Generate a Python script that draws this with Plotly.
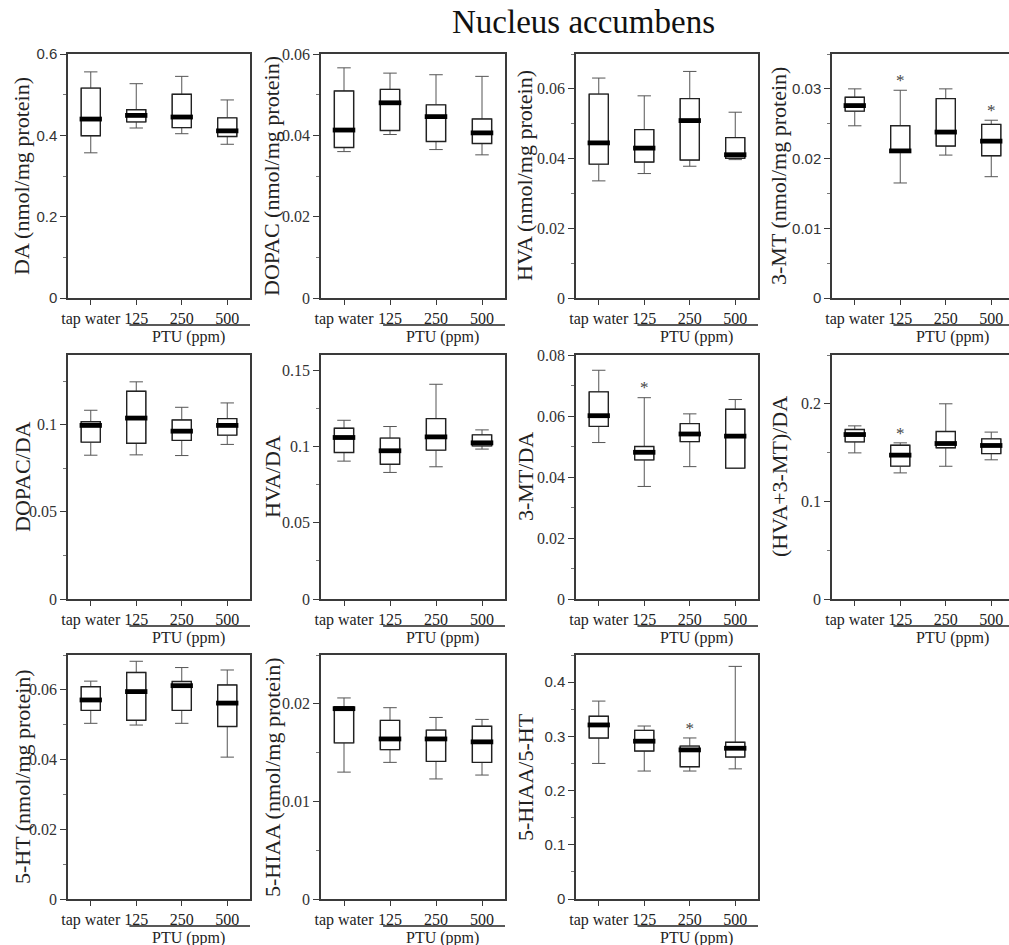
import plotly.graph_objects as go

CATEGORIES = ["tap water", "125", "250", "500"]
X_POS = [0, 1, 2, 3]

# ---- data (lower whisker, Q1, median, Q3, upper whisker) ----
DA_LOW = [0.357, 0.418, 0.404, 0.378]
DA_Q1 = [0.399, 0.433, 0.419, 0.397]
DA_MED = [0.440, 0.449, 0.445, 0.411]
DA_Q3 = [0.516, 0.463, 0.501, 0.443]
DA_HIGH = [0.556, 0.527, 0.545, 0.487]

DOPAC_LOW = [0.0360, 0.0402, 0.0365, 0.0352]
DOPAC_Q1 = [0.0370, 0.0412, 0.0385, 0.0380]
DOPAC_MED = [0.0413, 0.0480, 0.0446, 0.0406]
DOPAC_Q3 = [0.0509, 0.0513, 0.0475, 0.0440]
DOPAC_HIGH = [0.0566, 0.0553, 0.0549, 0.0545]

HVA_LOW = [0.0336, 0.0357, 0.0378, 0.0397]
HVA_Q1 = [0.0384, 0.0390, 0.0396, 0.0401]
HVA_MED = [0.0445, 0.0430, 0.0509, 0.0411]
HVA_Q3 = [0.0585, 0.0483, 0.0572, 0.0460]
HVA_HIGH = [0.0631, 0.0580, 0.0650, 0.0533]

MT_LOW = [0.0247, 0.0165, 0.0205, 0.0174]
MT_Q1 = [0.0268, 0.0210, 0.0218, 0.0204]
MT_MED = [0.0276, 0.0211, 0.0238, 0.0225]
MT_Q3 = [0.0288, 0.0247, 0.0286, 0.0249]
MT_HIGH = [0.0300, 0.0298, 0.0300, 0.0255]
MT_STARS = [1, 3]

DOPACDA_LOW = [0.0825, 0.0827, 0.0823, 0.0887]
DOPACDA_Q1 = [0.0900, 0.0894, 0.0910, 0.0940]
DOPACDA_MED = [0.0996, 0.1038, 0.0963, 0.0996]
DOPACDA_Q3 = [0.1017, 0.1192, 0.1027, 0.1035]
DOPACDA_HIGH = [0.1083, 0.1246, 0.1100, 0.1125]

HVADA_LOW = [0.0904, 0.0830, 0.0867, 0.0983]
HVADA_Q1 = [0.0961, 0.0884, 0.0976, 0.1004]
HVADA_MED = [0.1059, 0.0972, 0.1063, 0.1024]
HVADA_Q3 = [0.1120, 0.1055, 0.1183, 0.1076]
HVADA_HIGH = [0.1172, 0.1131, 0.1408, 0.1109]

MTDA_LOW = [0.0513, 0.0369, 0.0434, 0.0429]
MTDA_Q1 = [0.0566, 0.0456, 0.0516, 0.0429]
MTDA_MED = [0.0601, 0.0481, 0.0541, 0.0534]
MTDA_Q3 = [0.0679, 0.0500, 0.0575, 0.0622]
MTDA_HIGH = [0.0750, 0.0660, 0.0607, 0.0654]
MTDA_STARS = [1]

TURN_LOW = [0.1497, 0.1292, 0.1360, 0.1426]
TURN_Q1 = [0.1610, 0.1361, 0.1549, 0.1490]
TURN_MED = [0.1685, 0.1474, 0.1593, 0.1573]
TURN_Q3 = [0.1737, 0.1576, 0.1716, 0.1641]
TURN_HIGH = [0.1774, 0.1600, 0.2000, 0.1710]
TURN_STARS = [1]

HT_LOW = [0.0504, 0.0499, 0.0504, 0.0407]
HT_Q1 = [0.0541, 0.0513, 0.0541, 0.0495]
HT_MED = [0.0571, 0.0595, 0.0612, 0.0562]
HT_Q3 = [0.0609, 0.0650, 0.0624, 0.0614]
HT_HIGH = [0.0625, 0.0682, 0.0664, 0.0657]

HIAA_LOW = [0.0130, 0.0140, 0.0123, 0.0127]
HIAA_Q1 = [0.0160, 0.0153, 0.0141, 0.0140]
HIAA_MED = [0.0195, 0.0164, 0.0164, 0.0161]
HIAA_Q3 = [0.0197, 0.0183, 0.0173, 0.0177]
HIAA_HIGH = [0.0206, 0.0196, 0.0186, 0.0184]

RATIO_LOW = [0.250, 0.236, 0.236, 0.240]
RATIO_Q1 = [0.297, 0.273, 0.244, 0.262]
RATIO_MED = [0.321, 0.291, 0.275, 0.278]
RATIO_Q3 = [0.337, 0.311, 0.282, 0.289]
RATIO_HIGH = [0.365, 0.319, 0.297, 0.429]
RATIO_STARS = [2]

panels = [
    dict(t="DA (nmol/mg protein)", lo=DA_LOW, q1=DA_Q1, md=DA_MED, q3=DA_Q3, hi=DA_HIGH, st=[], ymax=0.6, dt=0.2, mn=0.1, sans=True),
    dict(t="DOPAC (nmol/mg protein)", lo=DOPAC_LOW, q1=DOPAC_Q1, md=DOPAC_MED, q3=DOPAC_Q3, hi=DOPAC_HIGH, st=[], ymax=0.06, dt=0.02, mn=0.01, sans=False),
    dict(t="HVA (nmol/mg protein)", lo=HVA_LOW, q1=HVA_Q1, md=HVA_MED, q3=HVA_Q3, hi=HVA_HIGH, st=[], ymax=0.07, dt=0.02, mn=0.01, sans=False),
    dict(t="3-MT (nmol/mg protein)", lo=MT_LOW, q1=MT_Q1, md=MT_MED, q3=MT_Q3, hi=MT_HIGH, st=MT_STARS, ymax=0.035, dt=0.01, mn=0.005, sans=True),
    dict(t="DOPAC/DA", lo=DOPACDA_LOW, q1=DOPACDA_Q1, md=DOPACDA_MED, q3=DOPACDA_Q3, hi=DOPACDA_HIGH, st=[], ymax=0.14, dt=0.05, mn=0.025, sans=False),
    dict(t="HVA/DA", lo=HVADA_LOW, q1=HVADA_Q1, md=HVADA_MED, q3=HVADA_Q3, hi=HVADA_HIGH, st=[], ymax=0.16, dt=0.05, mn=0.025, sans=False),
    dict(t="3-MT/DA", lo=MTDA_LOW, q1=MTDA_Q1, md=MTDA_MED, q3=MTDA_Q3, hi=MTDA_HIGH, st=MTDA_STARS, ymax=0.08, dt=0.02, mn=0.01, sans=False),
    dict(t="(HVA+3-MT)/DA", lo=TURN_LOW, q1=TURN_Q1, md=TURN_MED, q3=TURN_Q3, hi=TURN_HIGH, st=TURN_STARS, ymax=0.25, dt=0.1, mn=0.05, sans=False),
    dict(t="5-HT (nmol/mg protein)", lo=HT_LOW, q1=HT_Q1, md=HT_MED, q3=HT_Q3, hi=HT_HIGH, st=[], ymax=0.07, dt=0.02, mn=0.01, sans=False),
    dict(t="5-HIAA (nmol/mg protein)", lo=HIAA_LOW, q1=HIAA_Q1, md=HIAA_MED, q3=HIAA_Q3, hi=HIAA_HIGH, st=[], ymax=0.025, dt=0.01, mn=0.005, sans=False),
    dict(t="5-HIAA/5-HT", lo=RATIO_LOW, q1=RATIO_Q1, md=RATIO_MED, q3=RATIO_Q3, hi=RATIO_HIGH, st=RATIO_STARS, ymax=0.45, dt=0.1, mn=0.05, sans=True),
]

W, H = 1009, 945
COL_L = [68, 321, 576, 832]
COL_R = [250, 505, 758, 1009]
ROW_T = [54, 355, 655]
ROW_B = [298, 599, 899]
UNIT = 45.5
TITLE_X = [22, 272, 525, 779]

SERIF = "Liberation Serif, Times New Roman, serif"
SANS = "Liberation Sans, Arial, sans-serif"
AX = "#3a3a3a"

fig = go.Figure()
layout = dict(
    width=W, height=H,
    margin=dict(l=0, r=0, t=0, b=0, pad=0, autoexpand=False),
    paper_bgcolor="white", plot_bgcolor="white", showlegend=False,
    boxmode="overlay",
)
annotations = []
shapes = []

for k, p in enumerate(panels):
    r, c = divmod(k, 4)
    n = "" if k == 0 else str(k + 1)
    xa, ya = "x" + n, "y" + n
    left, right = COL_L[c], COL_R[c]
    top, bot = ROW_T[r], ROW_B[r]
    xmax = 3.5 if c < 3 else -0.5 + (right - left) / UNIT

    # whiskers (thin grey)
    fig.add_trace(go.Box(
        x=X_POS, q1=p["q1"], median=p["md"], q3=p["q3"],
        lowerfence=p["lo"], upperfence=p["hi"],
        width=0.42, whiskerwidth=0.7, fillcolor="white",
        line=dict(color="#555555", width=1), boxpoints=False,
        hoverinfo="skip", xaxis=xa, yaxis=ya))
    # box body
    fig.add_trace(go.Box(
        x=X_POS, q1=p["q1"], median=p["md"], q3=p["q3"],
        lowerfence=p["q1"], upperfence=p["q3"],
        width=0.42, whiskerwidth=0, fillcolor="white",
        line=dict(color="#222222", width=1.4), boxpoints=False,
        hoverinfo="skip", xaxis=xa, yaxis=ya))
    # thick median bars
    mx, my = [], []
    for i, m in zip(X_POS, p["md"]):
        mx += [i - 0.245, i + 0.245, None]
        my += [m, m, None]
    fig.add_trace(go.Scatter(x=mx, y=my, mode="lines",
                             line=dict(color="black", width=4.8),
                             hoverinfo="skip", xaxis=xa, yaxis=ya))
    # significance stars
    if p["st"]:
        fig.add_trace(go.Scatter(
            x=[X_POS[i] for i in p["st"]], y=[p["hi"][i] for i in p["st"]],
            mode="text", text=["*"] * len(p["st"]), textposition="top center",
            textfont=dict(family=SERIF, size=17, color="#444444"),
            hoverinfo="skip", xaxis=xa, yaxis=ya))

    tickfont = dict(family=SANS if p["sans"] else SERIF,
                    size=15 if p["sans"] else 16, color="#333333")
    layout["xaxis" + n] = dict(
        domain=[left / W, right / W], range=[-0.5, xmax], anchor=ya,
        tickmode="array", tickvals=X_POS, ticktext=CATEGORIES,
        ticks="outside", ticklen=5, tickwidth=1.2, tickcolor=AX,
        showline=True, linecolor=AX, linewidth=1.5, mirror=True,
        showgrid=False, zeroline=False, automargin=False,
        tickfont=dict(family=SERIF, size=16, color="#222222"))
    layout["yaxis" + n] = dict(
        domain=[1 - bot / H, 1 - top / H], range=[0, p["ymax"]], anchor=xa,
        tick0=0, dtick=p["dt"], ticks="outside", ticklen=6, tickwidth=1.2,
        tickcolor=AX, automargin=False,
        minor=dict(dtick=p["mn"], tick0=0, ticks="outside", ticklen=3,
                   tickcolor="#777777", tickwidth=1, showgrid=False),
        showline=True, linecolor=AX, linewidth=1.5, mirror=True,
        showgrid=False, zeroline=False, tickfont=tickfont)

    # y-axis title
    annotations.append(dict(
        text=p["t"], xref="paper", yref="paper",
        x=TITLE_X[c] / W, y=1 - (top + bot) / 2 / H, textangle=-90,
        showarrow=False, xanchor="center", yanchor="middle",
        font=dict(family=SERIF, size=22, color="#222222")))
    # PTU group line and label
    shapes.append(dict(type="line", xref=xa, yref="paper",
                       x0=0.85, x1=3.5, y0=1 - (bot + 27) / H, y1=1 - (bot + 27) / H,
                       line=dict(color="#222222", width=1.3)))
    annotations.append(dict(
        text="PTU (ppm)", xref=xa, yref="paper", x=2.15, y=1 - (bot + 39) / H,
        showarrow=False, xanchor="center", yanchor="middle",
        font=dict(family=SERIF, size=16, color="#222222")))

annotations.append(dict(
    text="Nucleus accumbens", xref="paper", yref="paper",
    x=583 / W, y=1 - 22 / H, showarrow=False, xanchor="center", yanchor="middle",
    font=dict(family=SERIF, size=33, color="#111111")))

layout["annotations"] = annotations
layout["shapes"] = shapes
fig.update_layout(**layout)
fig.write_html("out.html", config={"displayModeBar": False},
               post_script="document.body.style.margin='0';document.body.style.overflow='hidden';")
